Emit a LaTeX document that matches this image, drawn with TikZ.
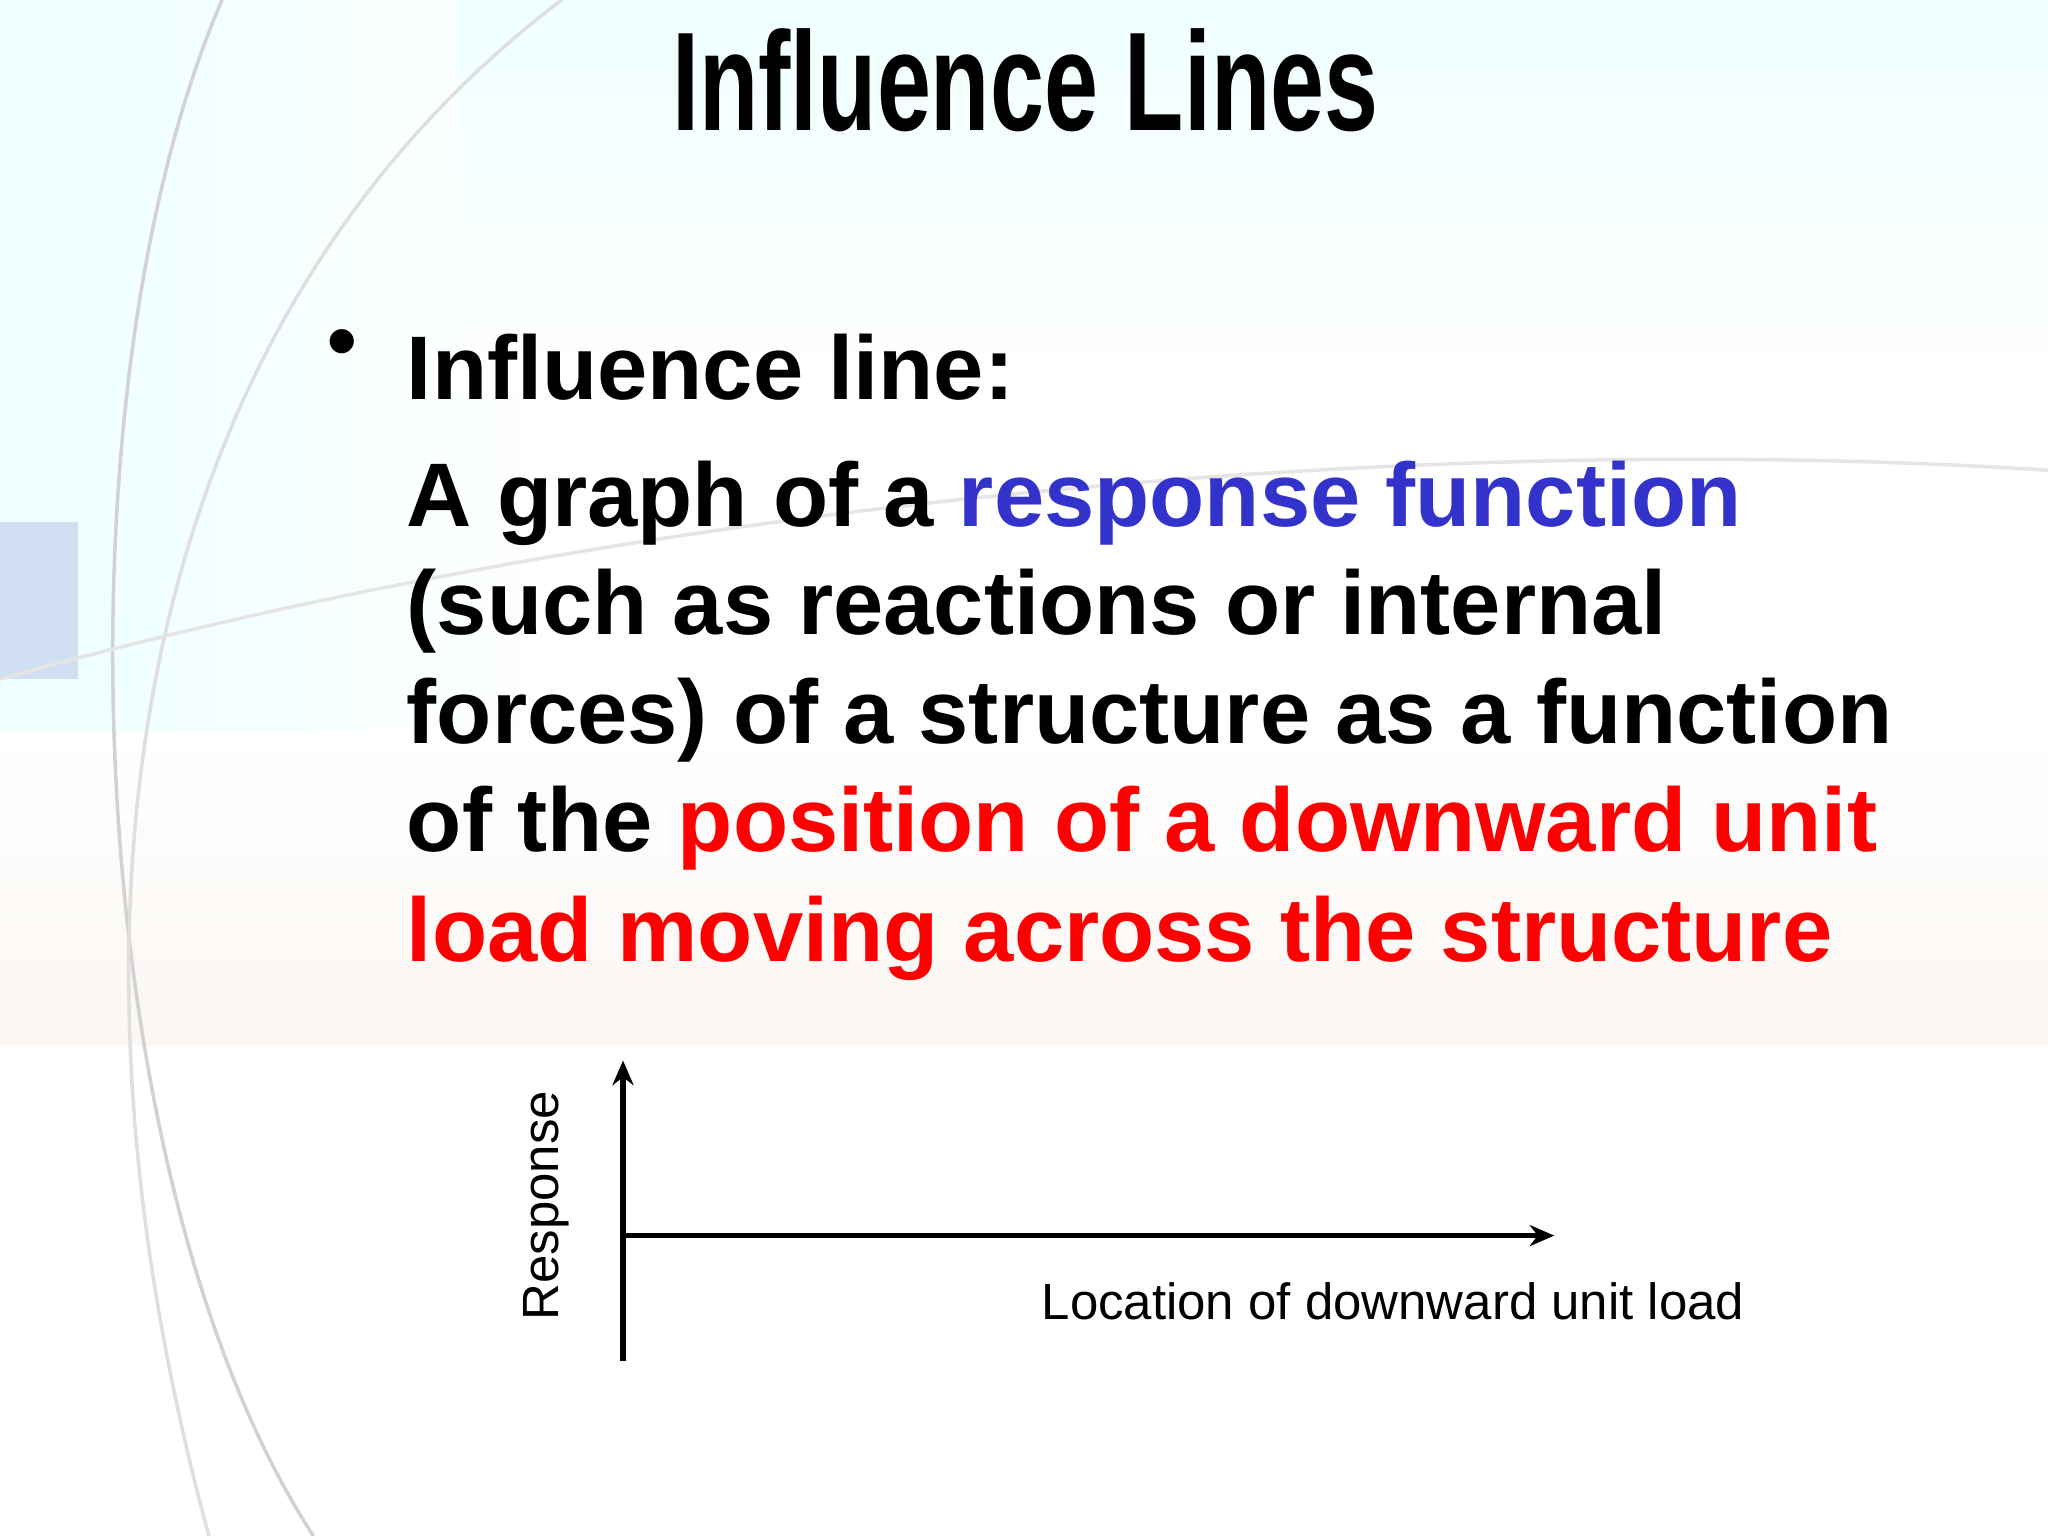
\documentclass[tikz,border=0pt]{standalone}
\usepackage{fontspec}
\usepackage{graphicx}
\usetikzlibrary{arrows.meta}
\setmainfont{Liberation Sans}
\definecolor{rblue}{RGB}{51,51,204}
\definecolor{rred}{RGB}{255,0,0}
\begin{document}
\begin{tikzpicture}[x=0.013061cm,y=-0.013061cm,
  body/.style={anchor=base west,inner sep=0,font=\fontsize{25.7}{30}\selectfont\bfseries},
  axis/.style={line width=1.6pt,-{Stealth[length=7pt,width=6pt]}},
  lbl/.style={inner sep=0,font=\fontsize{14.5}{17}\selectfont}]
\useasboundingbox (0,0) rectangle (1568,1176);
% background
\fill[white] (0,0) rectangle (1568,1176);
\shade[left color=cyan!12,right color=white,opacity=0.6] (0,0) rectangle (420,600);
\shade[top color=white,bottom color=brown!7] (0,560) rectangle (1568,800);
\shade[top color=cyan!6,bottom color=white] (350,0) rectangle (1568,300);
\fill[cyan!30!blue!35,opacity=0.4] (0,400) rectangle (60,520);
\draw[gray!35,line width=1pt] (170,0) .. controls (40,300) and (60,900) .. (240,1176);
\draw[gray!25,line width=1pt] (430,0) .. controls (100,250) and (30,700) .. (160,1176);
\draw[gray!20,line width=1pt] (0,520) .. controls (500,380) and (1100,330) .. (1568,360);
% title
\node[inner sep=0,anchor=base] (title) at (785,100) {\scalebox{0.69}[1]{\fontsize{40}{44}\selectfont\bfseries Influence Lines}};
% bullet text
\node[inner sep=0,anchor=base] (bullet) at (262,283) {\fontsize{24}{29}\selectfont\bfseries •};
\node[body] (l0) at (311,306) {Influence line:};
\node[body] (l1) at (311,403) {A graph of a \textcolor{rblue}{response function}};
\node[body] (l2) at (311,486) {(such as reactions or internal};
\node[body] (l3) at (311,569) {forces) of a structure as a function};
\node[body] (l4) at (311,652) {of the \textcolor{rred}{position of a downward unit}};
\node[body,text=rred] (l5) at (311,736) {load moving across the structure};
% axes
\coordinate (o) at (477,946);
\coordinate (yb) at (477,1042);
\coordinate (yt) at (477,812);
\coordinate (xe) at (1190,946);
\draw[axis] (yb) -- (yt);
\draw[axis] (o) -- (xe);
\node[lbl,rotate=90,anchor=center] (resp) at (418,923) {Response};
\node[lbl,anchor=base west] (loc) at (797,1010) {Location of downward unit load};
\end{tikzpicture}
\end{document}
